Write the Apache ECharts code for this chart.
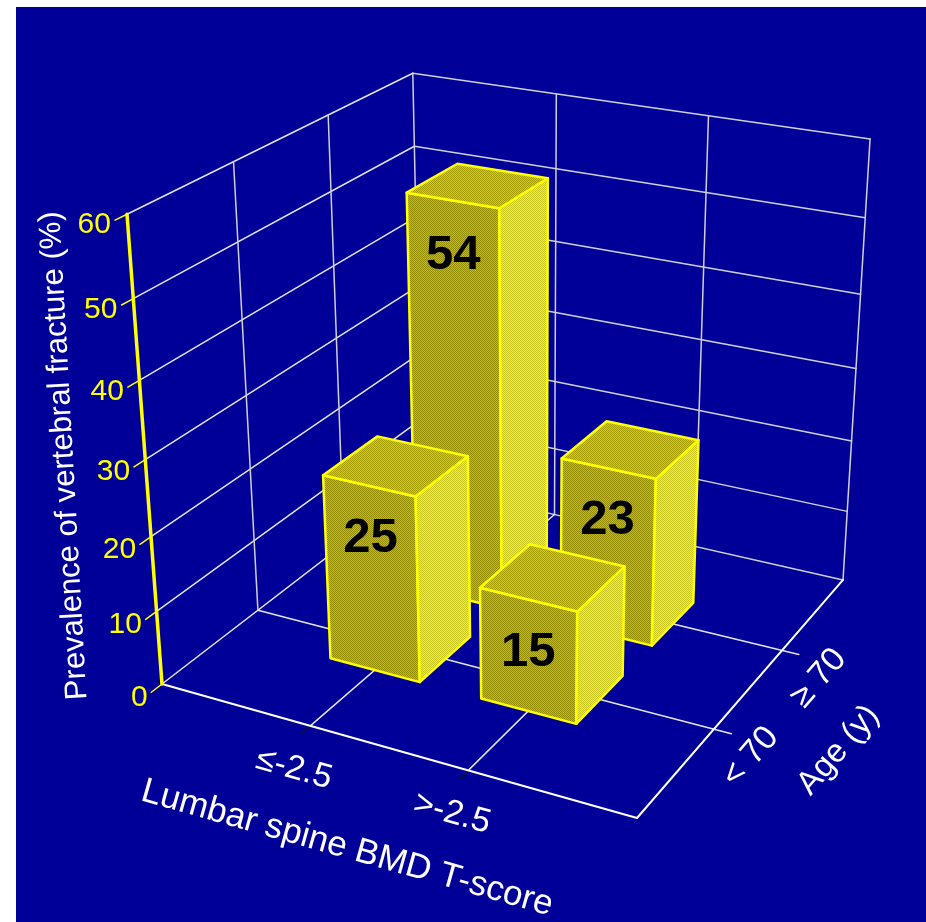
<!DOCTYPE html>
<html>
<head>
<meta charset="utf-8">
<script src="https://cdn.jsdelivr.net/npm/echarts@6/dist/echarts.min.js"></script>
<style>
  html, body { margin: 0; padding: 0; background: #ffffff; }
  #chart {
    width: 926px; height: 922px;
    background: linear-gradient(#000099, #000099) 16px 7px / 910px 915px no-repeat, #ffffff;
  }
</style>
</head>
<body>
<div id="chart"></div>
<script>
// ---- data ----
const bmdCategories = ['\u2264-2.5', '>-2.5'];          // lumbar spine BMD T-score
const ageCategories = ['< 70', '\u2265 70'];            // age (y)
const prevalenceUnder70 = [25, 15];                     // % by BMD category, age < 70
const prevalence70Plus = [54, 23];                      // % by BMD category, age >= 70
const valueTicks = [0, 10, 20, 30, 40, 50, 60];
const valueMax = 60;

const xTitle = 'Lumbar spine BMD T-score';
const yTitle = 'Age (y)';
const zTitle = 'Prevalence of vertebral fracture (%)';

// ---- perspective camera (vanishing points of the three box directions) ----
const cam = {
  origin: [162, 684],
  vpX: [-4511, -634], kX: -0.09227,
  vpY: [1929, -675],  kY: 0.1722,
  vpZ: [532, 5651],   kZ: -0.0864
};
// u: BMD axis [0,1], v: age axis [0,1], h: value axis [0,1]
function proj(u, v, h) {
  const w = 1 + cam.kX * u + cam.kY * v + cam.kZ * h;
  const x = cam.origin[0] + cam.kX * u * cam.vpX[0] + cam.kY * v * cam.vpY[0] + cam.kZ * h * cam.vpZ[0];
  const y = cam.origin[1] + cam.kX * u * cam.vpX[1] + cam.kY * v * cam.vpY[1] + cam.kZ * h * cam.vpZ[1];
  return [x / w, y / w];
}
function depth(u, v, h) { return 1 + cam.kX * u + cam.kY * v + cam.kZ * h; }
function catPos(i, n) { return (i + 1) / (n + 1); }
function hv(val) { return val / valueMax; }

const FONT = '"Liberation Sans", Arial, Helvetica, sans-serif';
const GRID = '#e4e4ee';
const BACK = '#cfcfd8';
const AXIS_Y = '#ffff00';
const halfSize = 0.1;       // bar half footprint
const labelDrop = 7;        // value label sits this far below the bar top

function unitDir(a, b) {
  const dx = b[0] - a[0], dy = b[1] - a[1], L = Math.hypot(dx, dy);
  return [dx / L, dy / L];
}
function seg(a, b, color, width) {
  return { type: 'line', silent: true,
    shape: { x1: a[0], y1: a[1], x2: b[0], y2: b[1] },
    style: { stroke: color, lineWidth: width, lineCap: 'round' } };
}
function label(str, x, y, rot, font, color, align) {
  const al = align || 'center';
  return { type: 'text', silent: true, x: x, y: y, rotation: rot || 0,
    style: { text: str, x: 0, y: 0, font: font, fill: color,
      align: al, verticalAlign: 'middle', textAlign: al, textVerticalAlign: 'middle' } };
}

// ---- box, grid, axes and their labels ----
function renderFrame() {
  const ch = [];
  const nB = bmdCategories.length, nA = ageCategories.length;
  const uTicks = bmdCategories.map((_, i) => catPos(i, nB));
  const vTicks = ageCategories.map((_, i) => catPos(i, nA));

  // back wall (v = 1)
  valueTicks.forEach(t => ch.push(seg(proj(0, 1, hv(t)), proj(1, 1, hv(t)), BACK, 1.5)));
  uTicks.concat([1]).forEach(u => ch.push(seg(proj(u, 1, 0), proj(u, 1, 1), BACK, 1.5)));
  // left wall (u = 0)
  valueTicks.forEach(t => ch.push(seg(proj(0, 0, hv(t)), proj(0, 1, hv(t)), GRID, 1.5)));
  vTicks.concat([1]).forEach(v => ch.push(seg(proj(0, v, 0), proj(0, v, 1), BACK, 1.5)));
  // floor
  uTicks.forEach(u => {
    ch.push(seg(proj(u, 0, 0), proj(u, 1, 0), GRID, 1.5));
    ch.push(seg(proj(u, -0.03, 0), proj(u, 0, 0), '#111133', 1.5));
  });
  vTicks.forEach(v => ch.push(seg(proj(0, v, 0), proj(1.035, v, 0), GRID, 1.5)));
  ch.push(seg(proj(0, 0, 0), proj(1, 0, 0), '#ffffff', 2));
  ch.push(seg(proj(1, 0, 0), proj(1, 1, 0), '#ffffff', 2));
  // value axis
  valueTicks.forEach(t => ch.push(seg(proj(0, -0.035, hv(t)), proj(0, 0, hv(t)), AXIS_Y, 1.5)));
  ch.push(seg(proj(0, 0, 0), proj(0, 0, 1), AXIS_Y, 3.5));

  // value tick labels
  valueTicks.forEach(t => {
    const p = proj(0, -0.05, hv(t));
    ch.push(label(String(t), p[0] + 1, p[1] + 2, 0, '30px ' + FONT, AXIS_Y, 'right'));
  });

  // BMD category labels along the front edge
  uTicks.forEach((u, i) => {
    const p = proj(u, 0, 0);
    const d = unitDir(proj(u - 0.01, 0, 0), proj(u + 0.01, 0, 0));
    const n = [-d[1], d[0]];
    const off = 46;
    ch.push(label(bmdCategories[i], p[0] + n[0] * off - d[0] * 4, p[1] + n[1] * off - d[1] * 4,
      -Math.atan2(d[1], d[0]), '34px ' + FONT, '#ffffff'));
  });
  // age category labels along the right edge
  vTicks.forEach((v, i) => {
    const p = proj(1, v, 0);
    const d = unitDir(proj(1, v - 0.01, 0), proj(1, v + 0.01, 0));
    const n = [-d[1], d[0]];
    const off = 46;
    ch.push(label(ageCategories[i], p[0] + n[0] * off + d[0] * 3, p[1] + n[1] * off + d[1] * 3,
      -Math.atan2(d[1], d[0]), '34px ' + FONT, '#ffffff'));
  });

  // axis titles
  {
    const p = proj(0.5, 0, 0);
    const d = unitDir(proj(0.49, 0, 0), proj(0.51, 0, 0));
    const n = [-d[1], d[0]];
    ch.push(label(xTitle, p[0] + n[0] * 108 - d[0] * 12, p[1] + n[1] * 108 - d[1] * 12,
      -Math.atan2(d[1], d[0]), '35px ' + FONT, '#ffffff'));
  }
  {
    const p = proj(1, 0.5, 0);
    const d = unitDir(proj(1, 0.49, 0), proj(1, 0.51, 0));
    const n = [-d[1], d[0]];
    ch.push(label(yTitle, p[0] + n[0] * 108 + d[0] * 12, p[1] + n[1] * 108 + d[1] * 12,
      -Math.atan2(d[1], d[0]), '33px ' + FONT, '#ffffff'));
  }
  {
    const p = proj(0, 0, 0.5);
    const d = unitDir(proj(0, 0, 0.49), proj(0, 0, 0.51));
    const tilt = 0.75 * (-Math.atan2(d[1], d[0]) - Math.PI / 2);
    ch.push(label(zTitle, p[0] - 81, p[1] - 4, Math.PI / 2 + tilt, '31px ' + FONT, '#ffffff'));
  }
  return { type: 'group', children: ch };
}

// ---- bars ----
const barData = [];
bmdCategories.forEach((_, bi) => {
  barData.push([bi, 0, prevalenceUnder70[bi]]);
  barData.push([bi, 1, prevalence70Plus[bi]]);
});
// paint far bars first
barData.sort((a, b) => {
  const da = depth(catPos(a[0], bmdCategories.length), catPos(a[1], ageCategories.length), 0);
  const db = depth(catPos(b[0], bmdCategories.length), catPos(b[1], ageCategories.length), 0);
  return db - da;
});

// fine diagonal hatch used to shade the bar faces
function hatch(light, dark) {
  const c = document.createElement('canvas');
  c.width = 4; c.height = 4;
  const g = c.getContext('2d');
  g.fillStyle = dark; g.fillRect(0, 0, 4, 4);
  g.fillStyle = light;
  for (let i = 0; i < 4; i++) { g.fillRect(i, (3 - i), 1, 1); g.fillRect(i, (5 - i) % 4, 1, 1); }
  return { image: c, repeat: 'repeat' };
}
const FACE_FRONT = hatch('#c4bc10', '#948c00');
const FACE_SIDE = hatch('#eeea50', '#c8c420');
const FACE_TOP = hatch('#d4cc10', '#a49c00');
const EDGE = '#ffff00';

function renderBar(params, api) {
  const bi = api.value(0), ai = api.value(1), val = api.value(2);
  const cu = catPos(bi, bmdCategories.length), cv = catPos(ai, ageCategories.length);
  const h = hv(val);
  const u0 = cu - halfSize, u1 = cu + halfSize, v0 = cv - halfSize, v1 = cv + halfSize;
  const face = (pts, fill) => ({ type: 'polygon', silent: true,
    shape: { points: pts },
    style: { fill: fill, stroke: EDGE, lineWidth: 2.5, lineJoin: 'round' } });
  const lp = proj(cu, v0, hv(val - labelDrop));
  return { type: 'group', children: [
    face([proj(u0, v0, 0), proj(u1, v0, 0), proj(u1, v0, h), proj(u0, v0, h)], FACE_FRONT),
    face([proj(u1, v0, 0), proj(u1, v1, 0), proj(u1, v1, h), proj(u1, v0, h)], FACE_SIDE),
    face([proj(u0, v0, h), proj(u1, v0, h), proj(u1, v1, h), proj(u0, v1, h)], FACE_TOP),
    label(String(val), lp[0], lp[1], 0, 'bold 49px ' + FONT, '#000000')
  ] };
}

const chart = echarts.init(document.getElementById('chart'), null, { renderer: 'canvas' });
chart.setOption({
  backgroundColor: 'transparent',
  animation: false,
  series: [
    { type: 'custom', coordinateSystem: 'none', silent: true, data: [[0]],
      renderItem: renderFrame },
    { type: 'custom', coordinateSystem: 'none', silent: true, data: barData,
      renderItem: renderBar }
  ]
});
</script>
</body>
</html>
